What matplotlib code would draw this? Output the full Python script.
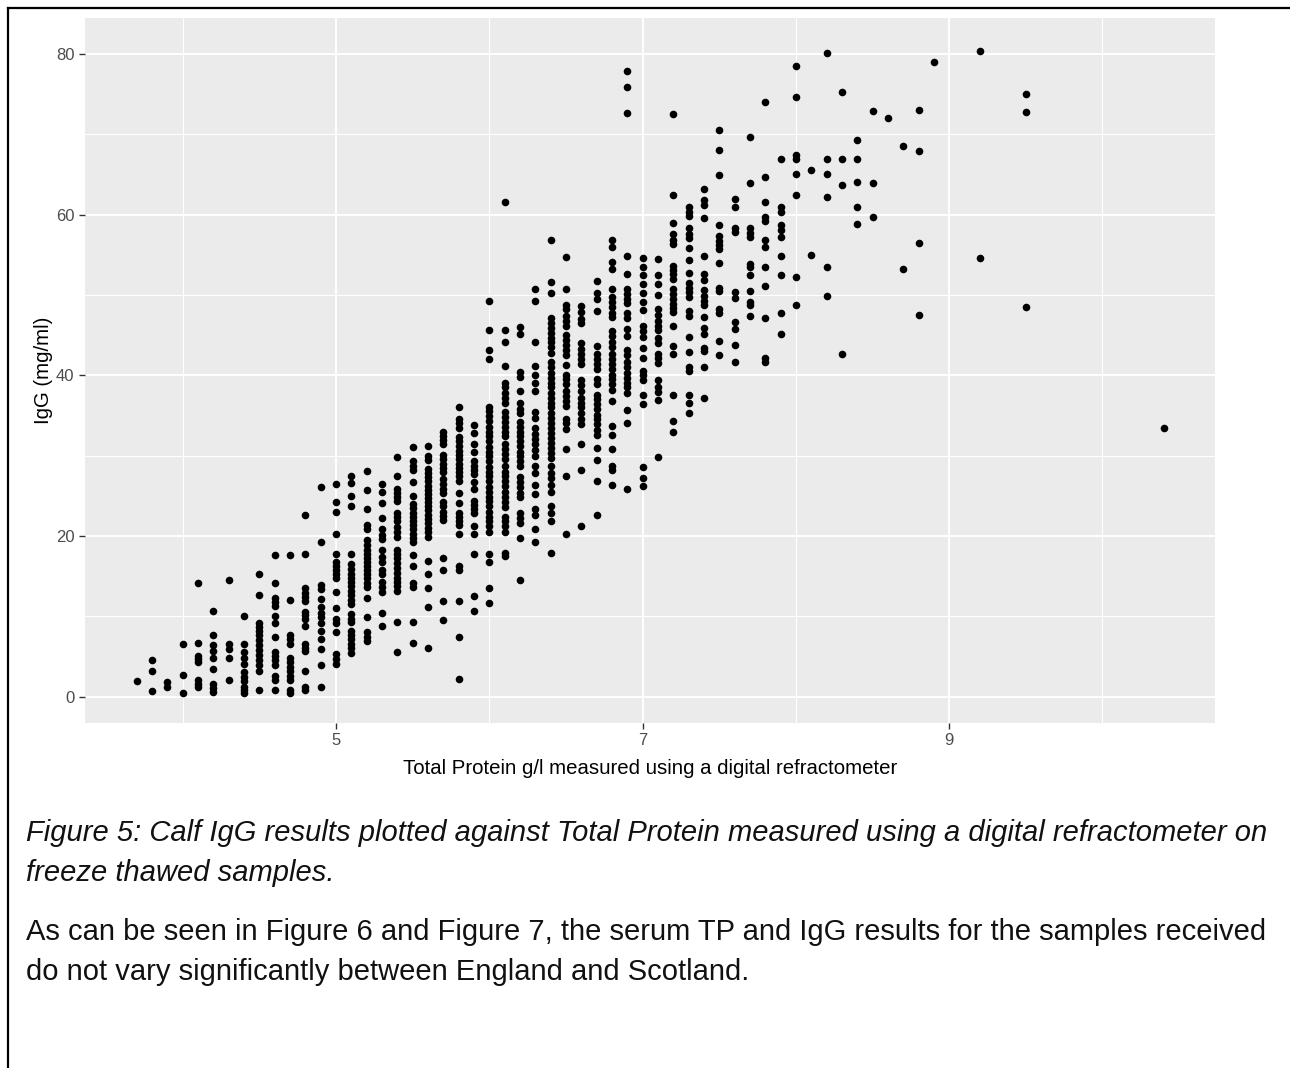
import numpy as np
import matplotlib
matplotlib.use('Agg')
import matplotlib.pyplot as plt
from matplotlib.lines import Line2D

# Refractometer total protein readings (g/l) and the IgG results (mg/ml) at each reading
tp_readings = [3.7, 3.8, 3.9, 4.0, 4.1, 4.2, 4.3, 4.4, 4.5, 4.6, 4.7, 4.8, 4.9,
               5.0, 5.1, 5.2, 5.3, 5.4, 5.5, 5.6, 5.7, 5.8, 5.9,
               6.0, 6.1, 6.2, 6.3, 6.4, 6.5, 6.6, 6.7, 6.8, 6.9,
               7.0, 7.1, 7.2, 7.3, 7.4, 7.5, 7.6, 7.7, 7.8, 7.9,
               8.0, 8.1, 8.2, 8.3, 8.4, 8.5, 8.6, 8.7, 8.8, 8.9,
               9.2, 9.5, 10.4]

igg_at_reading = [
    [1.9],
    [4.6, 3.2, 0.7],
    [1.8, 1.2],
    [6.5, 2.7, 0.4],
    [14.1, 6.7, 5.1, 4.7, 4.3, 2.0, 1.6, 1.2],
    [10.6, 7.7, 6.4, 5.7, 4.8, 3.4, 1.5, 1.0, 0.5],
    [14.5, 6.6, 5.9, 4.8, 2.0],
    [10.0, 6.6, 5.5, 4.8, 4.1, 3.0, 2.4, 1.9, 1.2, 0.8, 0.4],
    [15.2, 12.6, 9.1, 8.6, 8.1, 7.6, 7.0, 6.4, 5.8, 5.2, 4.6, 3.9, 3.2, 0.75],
    [17.6, 14.1, 12.3, 11.8, 11.3, 10.0, 9.1, 7.4, 5.6, 5.1, 4.6, 3.9, 2.5, 2.0, 0.8],
    [17.6, 12.0, 7.7, 7.2, 6.6, 4.8, 4.3, 3.7, 3.2, 2.5, 2.0, 0.8, 0.4],
    [22.6, 17.8, 13.5, 12.9, 12.4, 11.9, 10.5, 10.1, 9.7, 8.8, 6.6, 6.1, 5.7, 3.2, 1.2, 0.8],
    [26.1, 19.3, 13.9, 13.4, 12.2, 11.1, 10.4, 9.9, 9.1, 8.2, 7.2, 5.9, 3.9, 1.2],
    [26.5, 24.2, 23.0, 20.2, 17.8, 16.8, 16.3, 15.8, 15.3, 14.7, 13.0, 11.0, 9.7, 9.2,
     8.0, 5.3, 4.7, 4.1],
    [27.5, 26.6, 25.0, 23.7, 17.8, 16.5, 15.9, 15.3, 14.8, 14.3, 13.7, 13.1, 12.6, 12.0,
     11.5, 10.3, 9.7, 9.3, 8.2, 7.7, 7.1, 6.6, 6.0, 5.4],
    [28.1, 25.7, 23.4, 21.4, 20.8, 19.5, 18.9, 18.3, 17.8, 17.3, 16.8, 16.3, 15.8, 15.2,
     14.7, 14.1, 13.6, 12.3, 9.9, 8.0, 7.4, 6.9],
    [26.5, 25.5, 24.1, 22.2, 20.8, 20.1, 19.6, 18.3, 17.4, 16.8, 15.8, 15.3, 14.2, 13.6,
     13.0, 10.4, 8.8],
    [29.8, 27.4, 25.9, 25.4, 24.8, 24.3, 22.8, 22.3, 21.9, 21.1, 20.5, 19.9, 18.3, 17.8,
     17.2, 16.6, 16.0, 15.4, 14.8, 14.3, 13.7, 13.2, 9.3, 5.5],
    [31.1, 29.3, 28.7, 28.2, 26.7, 25.0, 24.0, 23.5, 22.9, 22.4, 21.9, 21.4, 20.8, 20.3,
     19.8, 19.2, 17.6, 16.3, 14.1, 13.6, 9.3, 6.7],
    [31.2, 29.9, 29.4, 28.3, 27.8, 27.3, 26.8, 26.2, 25.7, 25.2, 24.7, 24.2, 23.7, 23.2,
     22.6, 22.1, 21.6, 21.0, 20.5, 19.9, 16.9, 15.3, 13.5, 11.1, 6.0],
    [32.9, 32.4, 31.9, 31.4, 30.1, 29.6, 29.0, 28.4, 27.9, 27.1, 26.5, 25.9, 25.4, 24.2,
     23.7, 23.0, 22.5, 22.0, 17.3, 15.8, 11.9, 9.5],
    [36.1, 34.6, 34.0, 33.4, 32.3, 31.8, 31.2, 30.6, 30.1, 29.6, 29.0, 28.4, 27.9, 27.4,
     26.9, 25.4, 24.1, 22.9, 22.4, 21.9, 21.4, 20.2, 16.3, 15.8, 11.9, 7.4, 2.2],
    [33.8, 32.8, 31.4, 30.4, 29.3, 28.7, 28.2, 27.7, 26.7, 25.8, 24.4, 23.9, 23.3, 22.8,
     21.2, 20.2, 17.8, 12.5, 10.6],
    [49.2, 45.6, 43.2, 42.0, 36.1, 35.5, 34.9, 34.3, 33.6, 33.0, 32.4, 31.8, 31.1, 30.5,
     29.9, 29.3, 28.6, 28.0, 27.4, 26.8, 26.1, 25.5, 24.9, 24.3, 23.7, 23.0, 22.4, 21.8,
     21.2, 20.5, 17.8, 16.8, 13.5, 11.6],
    [61.6, 45.7, 44.1, 41.2, 39.1, 38.5, 37.8, 37.2, 36.6, 35.4, 34.8, 34.2, 33.6, 33.0,
     32.4, 31.5, 30.8, 30.25, 29.6, 28.7, 28.0, 27.4, 26.8, 26.2, 25.5, 24.9, 24.2, 23.6,
     22.4, 21.8, 21.2, 20.5, 17.9, 17.5],
    [46.0, 45.1, 40.4, 39.8, 38.0, 36.5, 35.8, 35.25, 34.2, 33.6, 33.0, 32.4, 31.8, 31.2,
     30.5, 29.9, 29.3, 28.7, 27.3, 26.7, 26.1, 25.4, 24.8, 22.8, 22.2, 21.6, 19.7, 14.5],
    [50.8, 49.3, 44.1, 41.2, 40.1, 39.1, 38.0, 35.4, 34.7, 33.5, 32.75, 32.1, 31.4, 30.75,
     29.9, 28.7, 27.8, 26.4, 25.25, 23.3, 22.6, 20.8, 19.3],
    [56.8, 51.6, 50.3, 47.1, 46.5, 45.9, 45.3, 44.7, 44.1, 43.5, 42.8, 41.6, 41.0, 40.3,
     39.7, 39.1, 38.5, 37.8, 37.2, 36.6, 36.0, 35.3, 34.7, 34.1, 33.5, 32.8, 32.2, 31.6,
     31.0, 30.3, 29.7, 28.7, 27.8, 27.2, 26.4, 25.5, 23.7, 22.9, 21.9, 17.9],
    [54.7, 50.8, 48.75, 48.2, 47.4, 46.8, 46.2, 45.0, 44.4, 43.8, 43.2, 42.5, 41.3, 40.1,
     39.5, 38.9, 38.0, 37.4, 36.8, 36.2, 34.6, 34.0, 33.3, 30.8, 27.4, 20.2],
    [48.6, 47.9, 47.0, 46.5, 44.0, 43.3, 42.6, 42.0, 41.4, 39.4, 38.75, 38.0, 37.2, 36.6,
     36.0, 35.3, 34.5, 33.9, 31.4, 28.25, 21.25],
    [51.7, 50.25, 49.5, 48.0, 43.6, 42.6, 42.0, 41.4, 40.75, 39.6, 38.9, 37.6, 37.0, 36.4,
     35.75, 35.1, 34.5, 33.9, 33.25, 32.6, 31.0, 29.5, 26.9, 22.6],
    [56.9, 56.0, 54.1, 53.2, 50.75, 49.7, 49.1, 48.5, 47.8, 47.3, 45.5, 44.9, 44.2, 43.5,
     42.6, 42.0, 41.4, 40.75, 40.1, 39.5, 38.9, 38.2, 36.8, 33.7, 32.6, 30.8, 28.7, 28.2,
     26.4],
    [77.9, 75.9, 72.7, 54.9, 52.6, 50.75, 50.1, 49.5, 49.0, 47.75, 47.1, 45.8, 44.9, 43.2,
     42.5, 41.6, 41.0, 40.3, 39.7, 39.1, 38.5, 37.8, 35.7, 34.1, 25.8],
    [54.6, 53.5, 52.5, 51.4, 50.2, 49.1, 48.1, 46.1, 45.5, 44.8, 43.4, 42.1, 40.5, 40.0,
     39.4, 37.5, 36.4, 28.6, 27.2, 26.25],
    [54.5, 52.5, 51.4, 50.0, 48.2, 47.5, 46.8, 46.2, 45.6, 44.7, 44.0, 42.7, 42.1, 41.5,
     39.4, 38.6, 37.9, 36.9, 29.8],
    [72.6, 62.5, 59.0, 57.6, 56.9, 56.3, 53.6, 53.1, 52.6, 52.0, 50.7, 50.1, 49.5, 48.9,
     48.4, 47.9, 46.2, 43.7, 42.7, 37.5, 34.3, 33.0],
    [61.0, 60.4, 59.8, 58.3, 57.6, 57.1, 55.8, 54.3, 52.75, 51.5, 50.9, 50.4, 49.8, 48.0,
     47.4, 44.8, 42.9, 41.0, 40.6, 37.5, 36.5, 35.3],
    [63.2, 61.8, 61.2, 59.6, 54.8, 52.6, 51.9, 50.6, 49.9, 49.3, 48.8, 47.3, 45.9, 45.2,
     43.4, 43.0, 41.0, 37.2],
    [70.6, 68.0, 64.9, 58.7, 57.3, 56.7, 56.2, 55.7, 54.0, 50.9, 50.5, 48.2, 47.7, 44.3,
     42.5],
    [61.9, 61.0, 58.4, 57.9, 50.4, 49.6, 46.6, 45.8, 43.8, 41.6],
    [69.7, 63.9, 58.3, 57.7, 57.2, 53.9, 53.5, 52.5, 50.5, 49.1, 48.8, 47.4],
    [74.1, 64.7, 61.6, 59.7, 59.2, 56.9, 56.0, 53.5, 51.1, 47.2, 42.2, 41.7],
    [67.0, 60.9, 60.4, 58.7, 58.1, 57.2, 54.9, 52.5, 47.8, 45.2],
    [78.5, 74.6, 67.5, 66.9, 65.1, 62.5, 52.2, 48.8],
    [65.6, 55.0],
    [80.1, 66.9, 65.1, 62.2, 53.5, 49.9],
    [75.3, 66.9, 63.7, 42.6],
    [69.3, 66.9, 64.1, 61.0, 58.9],
    [72.9, 63.9, 59.75],
    [72.1],
    [68.6, 53.2],
    [73.1, 67.9, 56.5, 47.5],
    [79.0],
    [80.4, 54.6],
    [75.0, 72.8, 48.5],
    [33.4],
]

x_ticks = [5, 7, 9]
y_ticks = [0, 20, 40, 60, 80]

caption_lines = [
    "Figure 5: Calf IgG results plotted against Total Protein measured using a digital refractometer on",
    "freeze thawed samples.",
]
body_lines = [
    "As can be seen in Figure 6 and Figure 7, the serum TP and IgG results for the samples received",
    "do not vary significantly between England and Scotland.",
]

# flatten into one point per sample
protein = np.concatenate([[tp] * len(v) for tp, v in zip(tp_readings, igg_at_reading)])
igg = np.concatenate([np.array(v, dtype=float) for v in igg_at_reading])

W, H = 1290, 1068
fig = plt.figure(figsize=(W / 100, H / 100), dpi=100)
fig.patch.set_facecolor('white')

ax = fig.add_axes([85 / W, 1 - 723 / H, 1130 / W, 705 / H])
ax.set_facecolor('#EBEBEB')
for s in ax.spines.values():
    s.set_visible(False)

ax.scatter(protein, igg, s=30, color='black', linewidths=0, zorder=3)

ax.set_xlim(3.363, 10.734)
ax.set_ylim(-3.3, 84.5)
ax.set_xticks(x_ticks)
ax.set_yticks(y_ticks)
ax.set_xticks([4, 6, 8, 10], minor=True)
ax.set_yticks([10, 30, 50, 70], minor=True)
ax.grid(True, which='major', color='white', linewidth=1.4, zorder=0)
ax.grid(True, which='minor', color='white', linewidth=0.75, zorder=0)
ax.set_axisbelow(True)

ax.tick_params(axis='both', which='major', length=4, width=1, color='#333333',
               labelcolor='#4D4D4D', labelsize=12, pad=3.5)
ax.tick_params(axis='both', which='minor', length=0)
for lab in ax.get_xticklabels() + ax.get_yticklabels():
    lab.set_family('Liberation Sans')

ax.set_xlabel('Total Protein g/l measured using a digital refractometer',
              fontsize=14.7, family='Liberation Sans', color='black')
ax.set_ylabel('IgG (mg/ml)', fontsize=14.7, family='Liberation Sans', color='black')
ax.xaxis.label.set_va('center')
ax.yaxis.label.set_va('center')
ax.xaxis.set_label_coords(0.5, (723 - 768) / 705)
ax.yaxis.set_label_coords((43 - 85) / 1130, 0.5)

# page frame around the figure
fig.add_artist(Line2D([7.5 / W, 7.5 / W], [0, 1 - 7.5 / H], color='black',
                      linewidth=1.6, transform=fig.transFigure))
fig.add_artist(Line2D([7.5 / W, 1], [1 - 7.5 / H, 1 - 7.5 / H], color='black',
                      linewidth=1.6, transform=fig.transFigure))

for i, line in enumerate(caption_lines):
    fig.text(26 / W, 1 - (833 + 40 * i) / H, line, fontsize=21, style='italic',
             family='Liberation Sans', color='#111111', va='center', ha='left')
for i, line in enumerate(body_lines):
    fig.text(26 / W, 1 - (932 + 40 * i) / H, line, fontsize=21,
             family='Liberation Sans', color='#111111', va='center', ha='left')

fig.savefig('out.png', dpi=100)
